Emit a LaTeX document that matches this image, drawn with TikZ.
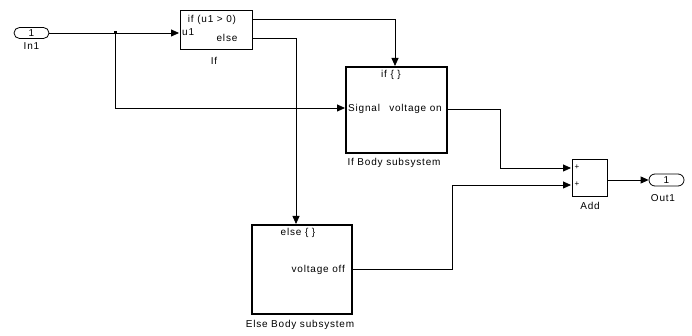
\documentclass[tikz,border=0pt]{standalone}
\usepackage{fontspec}
\setmainfont{Liberation Sans}[LetterSpace=8]
\usetikzlibrary{arrows.meta}
\begin{document}
\begin{tikzpicture}[x=1pt,y=-1pt,
  font=\fontsize{10}{12}\selectfont,
  wire/.style={line width=0.8pt},
  arr/.style={wire,-{Triangle[length=8pt,width=7pt]}},
  blk/.style={draw,line width=0.8pt,inner sep=0pt},
  subsys/.style={draw,line width=2.6pt,inner sep=0pt},
  port/.style={draw,line width=0.8pt,rounded corners=5.5pt,inner sep=0pt,minimum width=35pt,minimum height=11pt},
  lbl/.style={inner sep=0pt},
  plus/.style={inner sep=0pt,font=\fontsize{8}{9}\selectfont}]
\useasboundingbox (0,0) rectangle (692,336);
% blocks
\node[port] (in1) at (31.5,33) {1};
\node[lbl] (in1l) at (31.5,46) {In1};
\node[blk,minimum width=72pt,minimum height=39pt] (if) at (216,29.5) {};
\node[lbl] (ift) at (212,19.5) {if (u1 > 0)};
\node[lbl,anchor=west] (ifu) at (182,32) {u1};
\node[lbl] (ife) at (227,38) {else};
\node[lbl] (ifl) at (214,61) {If};
\node[subsys,minimum width=101pt,minimum height=86pt] (ifb) at (396.5,110) {};
\node[lbl] (ifbt) at (391,75) {if \{ \}};
\node[lbl,anchor=west] (ifbs) at (348,109) {Signal};
\node[lbl,anchor=east] (ifbv) at (442,109) {voltage on};
\node[lbl] (ifbl) at (394,163) {If Body subsystem};
\node[subsys,minimum width=100pt,minimum height=89pt] (elb) at (302,269.5) {};
\node[lbl] (elbt) at (298,233) {else \{ \}};
\node[lbl,anchor=east] (elbv) at (345,270) {voltage off};
\node[lbl] (elbl) at (300,325) {Else Body subsystem};
\node[blk,minimum width=35pt,minimum height=37pt] (add) at (589.5,177.5) {};
\node[plus] (addp1) at (577,167.5) {+};
\node[plus] (addp2) at (577,184.5) {+};
\node[lbl] (addl) at (590,206) {Add};
\node[port,minimum height=12pt,rounded corners=6pt] (out1) at (666.5,180) {1};
\node[lbl] (out1l) at (663,198) {Out1};
% ports and bends
\coordinate (ifin) at (179,33);
\coordinate (ifo1) at (252,19);
\coordinate (ifo2) at (252,38);
\coordinate (jn) at (115,33);
\coordinate (ifbin) at (345,108);
\coordinate (ifbtop) at (395,66);
\coordinate (ifbout) at (447,109);
\coordinate (elbtop) at (296,224);
\coordinate (elbout) at (352,269);
\coordinate (addin1) at (571,168);
\coordinate (addin2) at (571,185);
\coordinate (addout) at (607,180);
% wires
\draw[arr] (in1.east) -- (ifin);
\fill (jn) ++(-1.5,-1.5) rectangle ++(3,3);
\draw[arr] (jn) -- (jn |- ifbin) -- (ifbin);
\draw[arr] (ifo1) -- (ifbtop |- ifo1) -- (ifbtop);
\draw[arr] (ifo2) -- (elbtop |- ifo2) -- (elbtop);
\draw[arr] (ifbout) -- (500,109) -- (500,168) -- (addin1);
\draw[arr] (elbout) -- (452,269) -- (452,185) -- (addin2);
\draw[arr] (addout) -- (out1.west);
\end{tikzpicture}
\end{document}
